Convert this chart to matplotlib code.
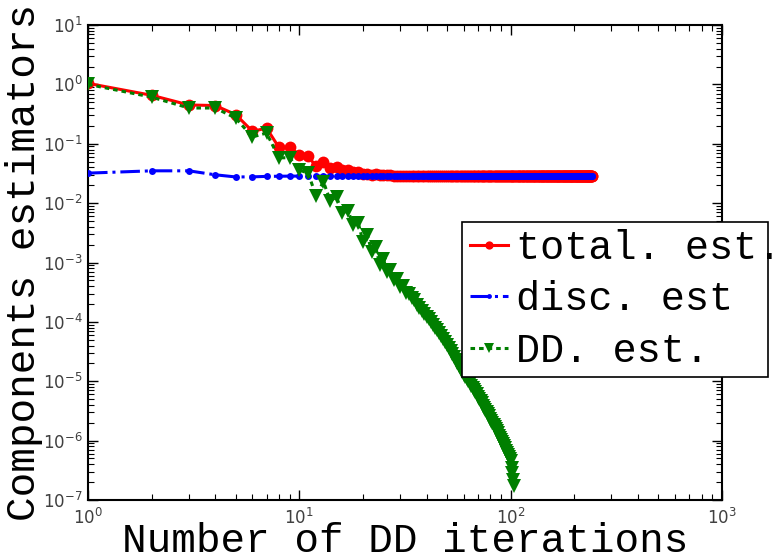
import numpy as np
import matplotlib
matplotlib.use("Agg")
import matplotlib.pyplot as plt
from matplotlib.patches import Rectangle
from matplotlib.ticker import LogLocator, NullFormatter

# ---------------- data ----------------
total_est = [
    1.04, 0.655, 0.45, 0.44, 0.31, 0.162, 0.183, 0.087, 0.087, 0.065,
    0.061, 0.042, 0.050, 0.0395, 0.041, 0.0355, 0.036, 0.0329, 0.0333, 0.0308,
    0.0315, 0.0301, 0.0304, 0.0295, 0.0297, 0.0292, 0.0293, 0.0291, 0.0291, 0.0290,
    0.0289, 0.0289, 0.0289, 0.0288, 0.0288, 0.0288, 0.0288, 0.0288, 0.0288, 0.0288,
    0.0287, 0.0287, 0.0287, 0.0287, 0.0287, 0.0287, 0.0287, 0.0287, 0.0287, 0.0287,
    0.0287, 0.0287, 0.0287, 0.0287, 0.0287, 0.0287, 0.0287, 0.0287, 0.0287, 0.0287,
    0.0287, 0.0287, 0.0287, 0.0287, 0.0287, 0.0287, 0.0287, 0.0287, 0.0287, 0.0287,
    0.0287, 0.0287, 0.0287, 0.0287, 0.0287, 0.0287, 0.0287, 0.0287, 0.0287, 0.0287,
    0.0287, 0.0287, 0.0287, 0.0287, 0.0287, 0.0287, 0.0287, 0.0287, 0.0287, 0.0287,
    0.0287, 0.0287, 0.0287, 0.0287, 0.0287, 0.0287, 0.0287, 0.0287, 0.0287, 0.0287,
    0.0287, 0.0287, 0.0287, 0.0287, 0.0287, 0.0287, 0.0287, 0.0287, 0.0287, 0.0287,
    0.0287, 0.0287, 0.0287, 0.0287, 0.0287, 0.0287, 0.0287, 0.0287, 0.0287, 0.0287,
    0.0287, 0.0287, 0.0287, 0.0287, 0.0287, 0.0287, 0.0287, 0.0287, 0.0287, 0.0287,
    0.0287, 0.0287, 0.0287, 0.0287, 0.0287, 0.0287, 0.0287, 0.0287, 0.0287, 0.0287,
    0.0287, 0.0287, 0.0287, 0.0287, 0.0287, 0.0287, 0.0287, 0.0287, 0.0287, 0.0287,
    0.0287, 0.0287, 0.0287, 0.0287, 0.0287, 0.0287, 0.0287, 0.0287, 0.0287, 0.0287,
    0.0287, 0.0287, 0.0287, 0.0287, 0.0287, 0.0287, 0.0287, 0.0287, 0.0287, 0.0287,
    0.0287, 0.0287, 0.0287, 0.0287, 0.0287, 0.0287, 0.0287, 0.0287, 0.0287, 0.0287,
    0.0287, 0.0287, 0.0287, 0.0287, 0.0287, 0.0287, 0.0287, 0.0287, 0.0287, 0.0287,
    0.0287, 0.0287, 0.0287, 0.0287, 0.0287, 0.0287, 0.0287, 0.0287, 0.0287, 0.0287,
    0.0287, 0.0287, 0.0287, 0.0287, 0.0287, 0.0287, 0.0287, 0.0287, 0.0287, 0.0287,
    0.0287, 0.0287, 0.0287, 0.0287, 0.0287, 0.0287, 0.0287, 0.0287, 0.0287, 0.0287,
    0.0287, 0.0287, 0.0287, 0.0287, 0.0287, 0.0287, 0.0287, 0.0287, 0.0287, 0.0287,
    0.0287, 0.0287, 0.0287, 0.0287, 0.0287, 0.0287, 0.0287, 0.0287, 0.0287, 0.0287,
    0.0287, 0.0287, 0.0287,
]

disc_est = [
    0.0320, 0.0350, 0.0350, 0.0300, 0.0276, 0.0277, 0.0282, 0.0284, 0.0285, 0.0285,
    0.0285, 0.0285, 0.0285, 0.0285, 0.0285, 0.0285, 0.0285, 0.0285, 0.0285, 0.0285,
    0.0285, 0.0285, 0.0285, 0.0285, 0.0285, 0.0285, 0.0285, 0.0285, 0.0285, 0.0285,
    0.0285, 0.0285, 0.0285, 0.0285, 0.0285, 0.0285, 0.0285, 0.0285, 0.0285, 0.0285,
    0.0285, 0.0285, 0.0285, 0.0285, 0.0285, 0.0285, 0.0285, 0.0285, 0.0285, 0.0285,
    0.0285, 0.0285, 0.0285, 0.0285, 0.0285, 0.0285, 0.0285, 0.0285, 0.0285, 0.0285,
    0.0285, 0.0285, 0.0285, 0.0285, 0.0285, 0.0285, 0.0285, 0.0285, 0.0285, 0.0285,
    0.0285, 0.0285, 0.0285, 0.0285, 0.0285, 0.0285, 0.0285, 0.0285, 0.0285, 0.0285,
    0.0285, 0.0285, 0.0285, 0.0285, 0.0285, 0.0285, 0.0285, 0.0285, 0.0285, 0.0285,
    0.0285, 0.0285, 0.0285, 0.0285, 0.0285, 0.0285, 0.0285, 0.0285, 0.0285, 0.0285,
    0.0285, 0.0285, 0.0285, 0.0285, 0.0285, 0.0285, 0.0285, 0.0285, 0.0285, 0.0285,
    0.0285, 0.0285, 0.0285, 0.0285, 0.0285, 0.0285, 0.0285, 0.0285, 0.0285, 0.0285,
    0.0285, 0.0285, 0.0285, 0.0285, 0.0285, 0.0285, 0.0285, 0.0285, 0.0285, 0.0285,
    0.0285, 0.0285, 0.0285, 0.0285, 0.0285, 0.0285, 0.0285, 0.0285, 0.0285, 0.0285,
    0.0285, 0.0285, 0.0285, 0.0285, 0.0285, 0.0285, 0.0285, 0.0285, 0.0285, 0.0285,
    0.0285, 0.0285, 0.0285, 0.0285, 0.0285, 0.0285, 0.0285, 0.0285, 0.0285, 0.0285,
    0.0285, 0.0285, 0.0285, 0.0285, 0.0285, 0.0285, 0.0285, 0.0285, 0.0285, 0.0285,
    0.0285, 0.0285, 0.0285, 0.0285, 0.0285, 0.0285, 0.0285, 0.0285, 0.0285, 0.0285,
    0.0285, 0.0285, 0.0285, 0.0285, 0.0285, 0.0285, 0.0285, 0.0285, 0.0285, 0.0285,
    0.0285, 0.0285, 0.0285, 0.0285, 0.0285, 0.0285, 0.0285, 0.0285, 0.0285, 0.0285,
    0.0285, 0.0285, 0.0285, 0.0285, 0.0285, 0.0285, 0.0285, 0.0285, 0.0285, 0.0285,
    0.0285, 0.0285, 0.0285, 0.0285, 0.0285, 0.0285, 0.0285, 0.0285, 0.0285, 0.0285,
    0.0285, 0.0285, 0.0285, 0.0285, 0.0285, 0.0285, 0.0285, 0.0285, 0.0285, 0.0285,
    0.0285, 0.0285, 0.0285, 0.0285, 0.0285, 0.0285, 0.0285, 0.0285, 0.0285, 0.0285,
    0.0285, 0.0285, 0.0285,
]

dd_est = [
    1.0, 0.61, 0.40, 0.40, 0.27, 0.13, 0.152, 0.058, 0.058, 0.036,
    0.032, 0.0133, 0.023, 0.011, 0.0126, 0.0069, 0.0074, 0.0043, 0.0047, 0.0022,
    0.0029, 0.0015, 0.0018, 9.2e-4, 1.15e-3, 6.9e-4, 7.4e-4, 5.0e-4, 5.3e-4, 3.9e-4,
    4.0e-4, 3.1e-4, 3.0e-4, 2.5e-4, 2.3e-4, 1.95e-4, 1.70e-4, 1.52e-4, 1.37e-4, 1.23e-4,
    1.10e-4, 9.9e-5, 8.9e-5, 8.0e-5, 7.2e-5, 6.5e-5, 5.75e-5, 5.1e-5, 4.6e-5, 4.1e-5,
    3.6e-5, 3.2e-5, 2.9e-5, 2.6e-5, 2.3e-5, 2.04e-5, 1.82e-5, 1.62e-5, 1.45e-5, 1.29e-5,
    1.18e-5, 1.09e-5, 9.98e-6, 9.2e-6, 8.4e-6, 7.7e-6, 7.1e-6, 6.5e-6, 6.0e-6, 5.5e-6,
    5.05e-6, 4.6e-6, 4.25e-6, 3.9e-6, 3.6e-6, 3.3e-6, 3.0e-6, 2.78e-6, 2.56e-6, 2.35e-6,
    2.17e-6, 2.0e-6, 1.84e-6, 1.69e-6, 1.56e-6, 1.43e-6, 1.32e-6, 1.21e-6, 1.12e-6, 1.03e-6,
    9.5e-7, 8.7e-7, 8.0e-7, 7.4e-7, 6.8e-7, 6.3e-7, 5.8e-7, 5.4e-7, 4.9e-7, 4.5e-7,
    3.5e-7, 2.8e-7, 2.2e-7, 1.7e-7,
]

series_labels = ["total. est.", "disc. est", "DD. est."]
x_label = "Number of DD iterations"
y_label = "Components estimators"

it_total = np.arange(1, len(total_est) + 1)
it_disc = np.arange(1, len(disc_est) + 1)
it_dd = np.arange(1, len(dd_est) + 1)

# ---------------- figure ----------------
W, H = 772, 557
fig = plt.figure(figsize=(W / 100, H / 100), dpi=100)
ax = fig.add_axes([88 / W, 1 - 500 / H, (722 - 88) / W, (500 - 25) / H])

mono = "Liberation Mono"

l1, = ax.plot(it_total, total_est, color="#ff0000", lw=2.2, marker="o",
              markersize=8.5, markeredgewidth=0, label=series_labels[0], zorder=3)
l2, = ax.plot(it_disc, disc_est, color="#0000ff", lw=2.2, linestyle="-.",
              marker="o", markersize=5, markeredgewidth=0,
              label=series_labels[1], zorder=4)
l3, = ax.plot(it_dd, dd_est, color="#007f00", lw=2.2, linestyle=(0, (1.5, 1.3)),
              marker="v", markersize=10, markeredgewidth=0,
              label=series_labels[2], zorder=5)

ax.set_xscale("log")
ax.set_yscale("log")
ax.set_xlim(1, 1000)
ax.set_ylim(1e-7, 10)

ax.xaxis.set_major_locator(LogLocator(base=10, numticks=10))
ax.yaxis.set_major_locator(LogLocator(base=10, numticks=20))
ax.xaxis.set_minor_locator(LogLocator(base=10, subs=np.arange(2, 10), numticks=20))
ax.yaxis.set_minor_locator(LogLocator(base=10, subs=np.arange(2, 10), numticks=20))
ax.xaxis.set_minor_formatter(NullFormatter())
ax.yaxis.set_minor_formatter(NullFormatter())

ax.tick_params(which="both", direction="in", top=True, right=True,
               colors="black", labelcolor="#404040", labelsize=12)
ax.tick_params(which="major", length=7, width=1)
ax.tick_params(which="minor", length=4, width=0.8)
ax.tick_params(axis="x", pad=6)
ax.tick_params(axis="y", pad=4)
for lab in ax.get_xticklabels() + ax.get_yticklabels():
    lab.set_family("DejaVu Sans")
for sp in ax.spines.values():
    sp.set_linewidth(1.5)
    sp.set_color("black")

ax.set_xlabel(x_label, fontsize=29.5, family=mono)
ax.set_ylabel(y_label, fontsize=29.5, family=mono)
ax.xaxis.set_label_coords(0.5, -0.046)
ax.yaxis.set_label_coords(-0.071, 0.5)

# legend (frameless text + box drawn separately, as in the reference)
leg = fig.legend(handles=[l1, l2, l3], labels=series_labels,
                 loc="upper left", bbox_to_anchor=(464 / W, 1 - 223 / H),
                 frameon=False, prop={"family": mono, "size": 29},
                 handlelength=0.95, handletextpad=0.2, labelspacing=0.33,
                 borderpad=0.15, borderaxespad=0, markerscale=0.7)
fig.add_artist(Rectangle((462 / W, 1 - 377 / H), (768 - 462) / W, (377 - 222) / H,
                         transform=fig.transFigure, facecolor="white",
                         edgecolor="black", lw=1.2, zorder=leg.get_zorder() - 0.1))

fig.savefig("out.png", dpi=100)
